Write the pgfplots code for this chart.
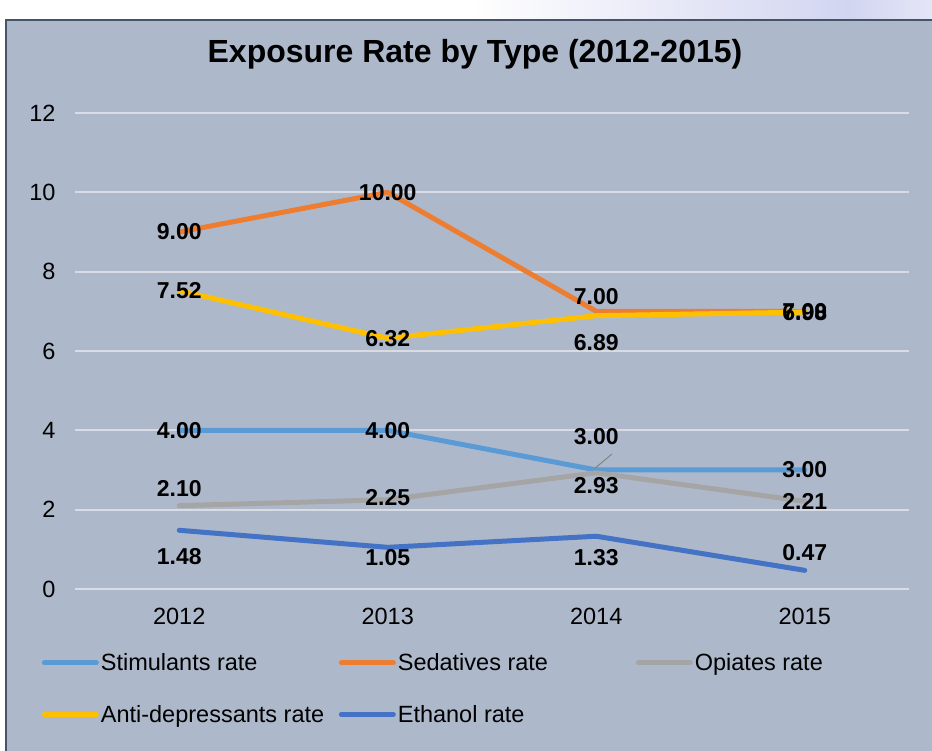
\documentclass[border=0pt]{standalone}
\usepackage{fontspec}
\setmainfont{Liberation Sans}
\usepackage{pgfplots}
\pgfplotsset{compat=1.18}
\usepackage{pgfplotstable}

\definecolor{panel}{HTML}{ADB9CB}
\definecolor{frameline}{HTML}{46546A}
\definecolor{gridc}{HTML}{D9DCE2}
\definecolor{lav}{HTML}{D2D5F0}
\definecolor{cStim}{HTML}{5B9BD5}
\definecolor{cSed}{HTML}{ED7D31}
\definecolor{cOpi}{HTML}{A5A5A5}
\definecolor{cAnti}{HTML}{FFC000}
\definecolor{cEth}{HTML}{4472C4}

% x = year index (1 = 2012), y = rate, dy = label offset in pt
\pgfplotstableread{
x y dy
1 4.00 0
2 4.00 0
3 3.00 33
4 3.00 0
}\stim
\pgfplotstableread{
x y dy
1 9.00 0
2 10.00 0
3 7.00 15
4 7.00 0
}\sed
\pgfplotstableread{
x y dy
1 2.10 17
2 2.25 2
3 2.93 -13
4 2.21 0
}\opi
\pgfplotstableread{
x y dy
1 7.52 0
2 6.32 0
3 6.89 -27
4 6.98 0
}\anti
\pgfplotstableread{
x y dy
1 1.48 -26
2 1.05 -10
3 1.33 -21
4 0.47 18
}\eth

\pgfplotsset{
  vals/.style={draw=none, forget plot, point meta=y,
    nodes near coords={\pgfmathprintnumber[fixed,fixed zerofill,precision=2]{\pgfplotspointmeta}},
    visualization depends on={\thisrow{dy} \as \dy},
    every node near coord/.append style={anchor=center, yshift=\dy pt,
      font=\fontsize{23}{27}\selectfont\bfseries, text=black, inner sep=0pt}},
  ser/.style={#1, line width=5pt, line cap=round, line join=round, mark=none},
}

\begin{document}
\begin{tikzpicture}[x=1pt,y=1pt]
\useasboundingbox (0,0) rectangle (932,751);
\fill[white] (0,0) rectangle (932,751);
\shade[left color=white, right color=lav] (470,731) rectangle (850,751);
\shade[left color=lav, right color=lav!60!white] (850,731) rectangle (932,751);
\fill[panel] (6,-10) rectangle (945,731);
\draw[frameline, line width=2.5pt] (6,-10) -- (6,731) -- (945,731);
\node[font=\fontsize{32}{38}\selectfont\bfseries] at (475,697) {Exposure Rate by Type (2012-2015)};

\begin{axis}[
  at={(75pt,162pt)}, anchor=south west,
  scale only axis, width=834pt, height=476pt,
  xmin=0.5, xmax=4.5, ymin=0, ymax=12,
  xtick={1,2,3,4}, xticklabels={2012,2013,2014,2015},
  ytick={0,2,...,12},
  axis line style={draw=none},
  major tick length=0pt,
  ymajorgrids, grid style={gridc, line width=2pt},
  tick label style={font=\fontsize{23.5}{28}\selectfont, text=black},
  /pgf/number format/assume math mode=true,
  yticklabel style={xshift=-16pt},
  xticklabel style={yshift=-16pt},
  clip=false,
  legend columns=3,
  legend cell align=left,
  legend image code/.code={\draw[#1, line width=5pt, line cap=round] (0pt,0pt) -- (52pt,0pt);},
  legend style={draw=none, fill=none, at={(-0.040,-0.131)}, anchor=north west,
    font=\fontsize{23.5}{28}\selectfont, text=black,
    /tikz/every odd column/.append style={column sep=0pt},
    /tikz/every even column/.append style={column sep=0pt},
    row sep=29pt, inner sep=0pt},
]
\addplot[ser=cStim] table {\stim};
\addlegendentry{\makebox[236pt][l]{Stimulants rate}}
\addplot[ser=cSed] table {\sed};
\addlegendentry{\makebox[236pt][l]{Sedatives rate}}
\addplot[ser=cOpi] table {\opi};
\addlegendentry{\makebox[236pt][l]{Opiates rate}}
\addplot[ser=cAnti] table {\anti};
\addlegendentry{\makebox[236pt][l]{Anti-depressants rate}}
\addplot[ser=cEth] table {\eth};
\addlegendentry{\makebox[236pt][l]{Ethanol rate}}

\draw[cOpi!80!black, line width=1pt] (axis cs:2.995,3.05) -- (axis cs:3.075,3.40);

\addplot[vals] table {\stim};
\addplot[vals] table {\sed};
\addplot[vals] table {\opi};
\addplot[vals] table {\anti};
\addplot[vals] table {\eth};
\end{axis}
\end{tikzpicture}
\end{document}
